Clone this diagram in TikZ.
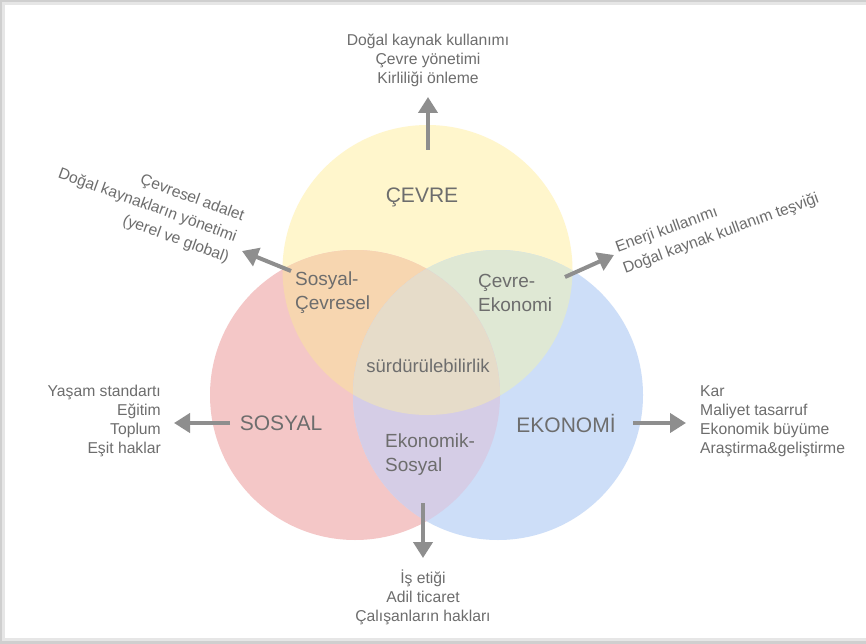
\documentclass[tikz,border=0pt]{standalone}
\usepackage{fontspec}
\setmainfont{Liberation Sans}
\usetikzlibrary{arrows.meta}

\definecolor{txtgray}{HTML}{6D6D6D}
\definecolor{arrgray}{HTML}{8E8E8E}
\definecolor{cyel}{HTML}{FFF6CC}
\definecolor{cred}{HTML}{F4C7C7}
\definecolor{cblu}{HTML}{CDDEF8}
\definecolor{cyr}{HTML}{F7D6B0}
\definecolor{cyb}{HTML}{DFE8D4}
\definecolor{crb}{HTML}{D5CDE6}
\definecolor{cyrb}{HTML}{E6DCC9}
\definecolor{frameA}{HTML}{CFCFCF}
\definecolor{frameB}{HTML}{E6E6E6}

\tikzset{
  outtext/.style={text=txtgray, inner sep=0pt, font=\fontsize{15.7}{19}\selectfont},
  slanttext/.style={text=txtgray, inner sep=0pt, font=\fontsize{15.7}{22}\selectfont},
  biglabel/.style={text=txtgray, inner sep=0pt, font=\fontsize{21}{24}\selectfont},
  midlabel/.style={text=txtgray, inner sep=0pt, font=\fontsize{19}{24}\selectfont, align=left},
  pointer/.style={draw=arrgray, line width=4pt, -{Triangle[width=19pt,length=16pt]}},
}

\begin{document}
\begin{tikzpicture}[x=1pt,y=-1pt]
\useasboundingbox (0,0) rectangle (866,644);

% card with soft edge
\fill[frameA] (0,0) rectangle (866,644);
\fill[frameB] (2,2) rectangle (866,641);
\fill[white] (5,5) rectangle (866,638);

% circle centres
\coordinate (cY) at (427.5,270);
\coordinate (cR) at (355,395);
\coordinate (cB) at (498,395);
\def\rad{145}

% base discs
\fill[cyel] (cY) circle (\rad);
\fill[cred] (cR) circle (\rad);
\fill[cblu] (cB) circle (\rad);
% pairwise overlaps
\begin{scope}
  \clip (cY) circle (\rad);
  \fill[cyr] (cR) circle (\rad);
  \fill[cyb] (cB) circle (\rad);
\end{scope}
\begin{scope}
  \clip (cR) circle (\rad);
  \fill[crb] (cB) circle (\rad);
\end{scope}
% triple overlap
\begin{scope}
  \clip (cY) circle (\rad);
  \clip (cR) circle (\rad);
  \fill[cyrb] (cB) circle (\rad);
\end{scope}

% circle labels
\node[biglabel] (cevre) at (422,197) {ÇEVRE};
\node[biglabel] (sosyal) at (281,423) {SOSYAL};
\node[biglabel] (ekonomi) at (566,423) {EKONOMİ};

% overlap labels
\node[midlabel, anchor=west] (sc) at (295,293) {Sosyal-\\Çevresel};
\node[midlabel, anchor=west] (ce) at (478,293) {Çevre-\\Ekonomi};
\node[text=txtgray, inner sep=0pt, font=\fontsize{18.5}{24}\selectfont] (surd) at (428,366) {sürdürülebilirlik};
\node[midlabel, anchor=west] (es) at (385,455) {Ekonomik-\\Sosyal};

% outer notes
\node[outtext, align=center] (topnote) at (428,60.5)
  {Doğal kaynak kullanımı\\Çevre yönetimi\\Kirliliği önleme};
\node[outtext, align=center] (botnote) at (423,597)
  {İş etiği\\Adil ticaret\\Çalışanların hakları};
\node[outtext, align=right, anchor=east] (leftnote) at (161,421)
  {Yaşam standartı\\Eğitim\\Toplum\\Eşit haklar};
\node[outtext, align=left, anchor=west] (rightnote) at (700,421)
  {Kar\\Maliyet tasarruf\\Ekonomik büyüme\\Araştirma\&geliştirme};
\node[slanttext, align=right, anchor=east, rotate=-20] (ulnote) at (236,238)
  {Çevresel adalet\\Doğal kaynakların yönetimi\\(yerel ve global)};
\node[slanttext, align=left, anchor=west, rotate=20] (urnote) at (620,259)
  {Enerji kullanımı\\Doğal kaynak kullanım teşviği};

% arrow end points
\coordinate (aT0) at (428,150);  \coordinate (aT1) at (428,97);
\coordinate (aUL0) at (291,271); \coordinate (aUL1) at (242,251);
\coordinate (aUR0) at (565,277); \coordinate (aUR1) at (614,255);
\coordinate (aL0) at (230,423);  \coordinate (aL1) at (174,423);
\coordinate (aR0) at (633,423);  \coordinate (aR1) at (686,423);
\coordinate (aB0) at (423,503);  \coordinate (aB1) at (423,558);

\draw[pointer] (aT0) -- (aT1);
\draw[pointer] (aUL0) -- (aUL1);
\draw[pointer] (aUR0) -- (aUR1);
\draw[pointer] (aL0) -- (aL1);
\draw[pointer] (aR0) -- (aR1);
\draw[pointer] (aB0) -- (aB1);
\end{tikzpicture}
\end{document}
